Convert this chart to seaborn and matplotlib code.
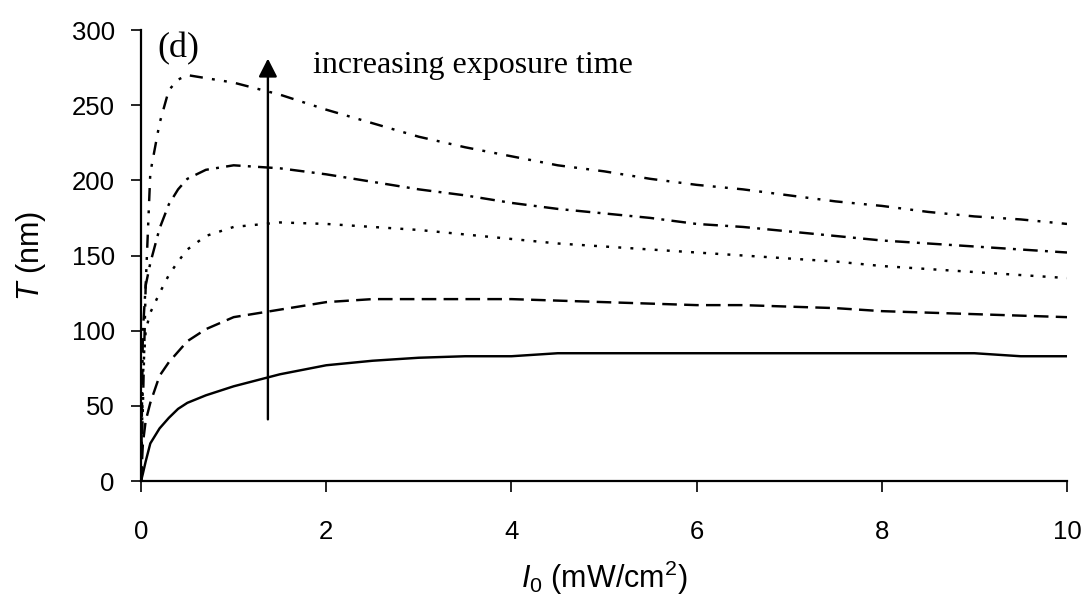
import matplotlib
matplotlib.use("Agg")
import matplotlib.pyplot as plt
import seaborn as sns
import pandas as pd

# ---- data ----
intensity = [0, 0.02, 0.05, 0.1, 0.2, 0.3, 0.4, 0.5, 0.7, 1.0, 1.5, 2.0, 2.5, 3.0,
             3.5, 4.0, 4.5, 5.0, 5.5, 6.0, 6.5, 7.0, 7.5, 8.0, 8.5, 9.0, 9.5, 10.0]

t1 = [0, 5, 13, 25, 35, 42, 48, 52, 57, 63, 71, 77, 80, 82,
      83, 83, 85, 85, 85, 85, 85, 85, 85, 85, 85, 85, 83, 83]
t2 = [0, 25, 40, 52, 70, 79, 86, 93, 101, 109, 114, 119, 121, 121,
      121, 121, 120, 119, 118, 117, 117, 116, 115, 113, 112, 111, 110, 109]
t3 = [0, 70, 100, 112, 125, 137, 146, 154, 163, 169, 172, 171, 169, 167,
      164, 161, 158, 156, 154, 152, 150, 148, 146, 143, 141, 139, 137, 135]
t4 = [0, 100, 130, 145, 168, 184, 194, 201, 207, 210, 208, 204, 199, 194,
      190, 185, 181, 178, 175, 171, 169, 166, 163, 160, 158, 156, 154, 152]
t5 = [0, 50, 130, 205, 238, 260, 267, 270, 268, 265, 257, 247, 238, 229,
      222, 216, 210, 206, 201, 197, 194, 190, 186, 183, 179, 176, 174, 171]

series_names = ["t1", "t2", "t3", "t4", "t5"]
series_values = [t1, t2, t3, t4, t5]

x_ticks = [0, 2, 4, 6, 8, 10]
y_ticks = [0, 50, 100, 150, 200, 250, 300]

rows = []
for name, vals in zip(series_names, series_values):
    for xv, yv in zip(intensity, vals):
        rows.append({"I0": xv, "T": yv, "series": name})
df = pd.DataFrame(rows)

# ---- style ----
sns.set_theme(style="white")
plt.rcParams["font.family"] = ["Liberation Sans", "DejaVu Sans"]
plt.rcParams["mathtext.fontset"] = "custom"
plt.rcParams["mathtext.rm"] = "Liberation Sans"
plt.rcParams["mathtext.it"] = "Liberation Sans:italic"

fig = plt.figure(figsize=(10.9, 6), dpi=100)
ax = fig.add_axes([0.1294, 0.1983, 0.8495, 0.7517])

dash_map = {
    "t1": "",
    "t2": (6.0, 3.0),
    "t3": (1.2, 3.8),
    "t4": (6.0, 3.0, 1.2, 3.0),
    "t5": (5.4, 3.8, 1.2, 3.8, 1.2, 3.8),
}

sns.lineplot(data=df, x="I0", y="T", style="series", dashes=dash_map,
             color="black", linewidth=1.75, estimator=None, legend=False,
             ax=ax)

ax.set_xlim(0, 10)
ax.set_ylim(0, 300)
ax.set_xticks(x_ticks)
ax.set_yticks(y_ticks)
ax.set_xticklabels([str(v) for v in x_ticks])
ax.set_yticklabels([str(v) for v in y_ticks])

for side in ["top", "right"]:
    ax.spines[side].set_visible(False)
for side in ["left", "bottom"]:
    ax.spines[side].set_color("black")
    ax.spines[side].set_linewidth(1.6)

ax.tick_params(axis="x", direction="out", length=8, width=1.2, color="black",
               labelsize=18.5, pad=20, labelcolor="black")
ax.tick_params(axis="y", direction="out", length=7, width=1.2, color="black",
               labelsize=18.5, pad=12, labelcolor="black")
ax.tick_params(left=True, bottom=True)

ax.set_xlabel(r"$I_{\mathit{0}}$ (mW/cm$^{2}$)", fontsize=22, labelpad=11,
              color="black")
ax.set_ylabel(r"$T$ (nm)", fontsize=22, labelpad=17, color="black")

ax.text(0.18, 281.5, "(d)", fontsize=26, family="Liberation Serif",
        ha="left", va="baseline", color="black")
ax.text(1.854, 271.5, "increasing exposure time", fontsize=23,
        family="Liberation Serif", ha="left", va="baseline", color="black")

ax.annotate("", xy=(1.37, 281), xytext=(1.37, 41),
            arrowprops=dict(arrowstyle="-|>,head_length=0.55,head_width=0.28",
                            color="black", lw=1.7, mutation_scale=20,
                            shrinkA=0, shrinkB=0))

fig.savefig("out.png", dpi=100, facecolor="white")
